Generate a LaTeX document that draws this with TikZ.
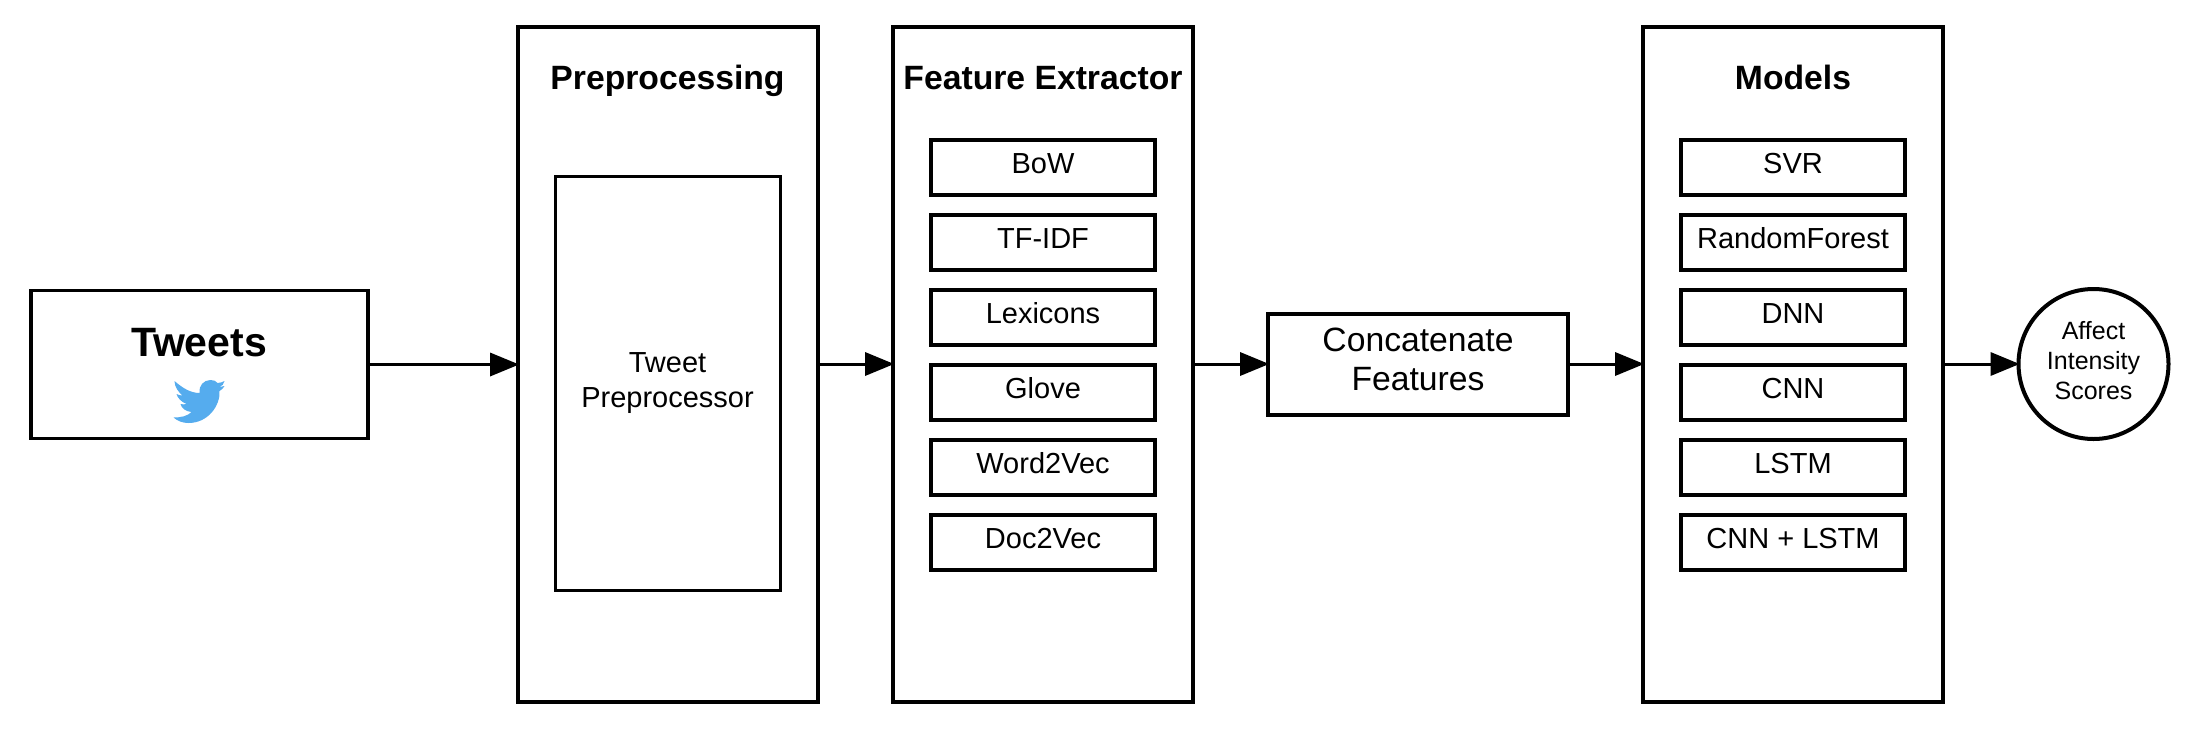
\documentclass[tikz,border=0pt]{standalone}
\usepackage{fontspec}
\setmainfont{Liberation Sans}
\usetikzlibrary{arrows.meta}
\definecolor{birdblue}{HTML}{55ACEE}
\newcommand{\fs}[1]{\fontsize{#1}{#1}\selectfont}
\tikzset{
  x=1pt,y=-1pt,
  outerbox/.style={draw=black,line width=4pt,fill=white,minimum width=300pt,minimum height=675.5pt,inner sep=0pt,anchor=north west},
  itembox/.style={draw=black,line width=4pt,fill=white,minimum width=224pt,minimum height=55pt,inner sep=0pt},
  itemtext/.style={font=\fs{29},text=black,anchor=base},
  headtext/.style={font=\fs{33.7}\bfseries,text=black,anchor=base},
  flow/.style={line width=3pt,-{Triangle[length=29pt,width=24pt,line width=0pt]},shorten >=-3pt},
}
\begin{document}
\begin{tikzpicture}
\useasboundingbox (0,0) rectangle (2211,731);
\fill[white] (0,0) rectangle (2211,731);
% Tweets
\node[draw=black,line width=3.5pt,minimum width=337pt,minimum height=148pt,inner sep=0pt] (tweets) at (199.5,364.5) {};
\node[font=\fs{41}\bfseries] (tweetslabel) at (199,343) {Tweets};
\fill[birdblue] (173.5,417.5)
  .. controls (181.5,417.5) and (187.5,416) .. (191.5,412)
  .. controls (185.5,411.5) and (181.5,408) .. (180.5,404)
  .. controls (182.5,404.5) and (184.5,404.5) .. (186.5,404)
  .. controls (181.5,402) and (177.5,398) .. (176.5,394)
  .. controls (178.5,395) and (180.5,395.5) .. (182.5,395.5)
  .. controls (178.5,392) and (174.5,387) .. (174.5,381)
  .. controls (182.5,388) and (190.5,393) .. (199.5,393)
  .. controls (198.5,386) and (203.5,380) .. (210.5,380)
  .. controls (213.5,380) and (216.5,381) .. (217.5,383)
  .. controls (220.5,383) and (222.5,382) .. (224.5,381)
  .. controls (223.5,384) and (222.5,386) .. (219.5,387)
  .. controls (221.5,387) and (222.5,387) .. (224.5,386)
  .. controls (223.5,388) and (221.5,390) .. (219.5,391)
  .. controls (220.5,405) and (208.5,423) .. (188.5,423)
  .. controls (182.5,423) and (177.5,421) .. (173.5,417.5) -- cycle;
% Preprocessing
\node[outerbox] (prep) at (516,24.5) {};
\node[headtext] (preplabel) at (667.5,89.5) {Preprocessing};
\node[draw=black,line width=3pt,fill=white,minimum width=225pt,minimum height=414pt,inner sep=0pt,align=center,font=\fs{29}] (tp) at (667.5,383) {Tweet\\[6pt]Preprocessor};
% Feature extractor
\node[outerbox] (feat) at (891,24.5) {};
\node[headtext] (featlabel) at (1043,89.5) {Feature Extractor};
\foreach \n/\t [count=\i from 0] in {a/BoW,b/TF-IDF,c/Lexicons,d/Glove,e/Word2Vec,f/Doc2Vec}{
  \node[itembox] (f\n) at (1043,{167.5+75*\i}) {};
  \node[itemtext] (f\n t) at (1043,{173.5+75*\i}) {\t};
}
% Concatenate
\node[draw=black,line width=4pt,minimum width=300pt,minimum height=101pt,inner sep=0pt] (conc) at (1418,364) {};
\node[align=center,font=\fs{33.7},inner sep=0pt] (conctext) at (1418,359.5) {Concatenate\\[6pt]Features};
% Models
\node[outerbox] (models) at (1641,24.5) {};
\node[headtext] (modelslabel) at (1793,89.5) {Models};
\foreach \n/\t [count=\i from 0] in {a/SVR,b/RandomForest,c/DNN,d/CNN,e/LSTM,f/CNN + LSTM}{
  \node[itembox] (m\n) at (1793,{167.5+75*\i}) {};
  \node[itemtext] (m\n t) at (1793,{173.5+75*\i}) {\t};
}
% Scores
\node[circle,draw=black,line width=4pt,minimum size=150pt,inner sep=0pt] (scores) at (2093.5,364) {};
\node[align=center,font=\fs{25},inner sep=0pt] (scorestext) at (2093.5,360.5) {Affect\\[5pt]Intensity\\[5pt]Scores};
% Connectors
\draw[flow] (tweets.east) -- (prep.west |- tweets.east);
\draw[flow] (prep.east |- tp.east) ++(0,-19) coordinate (p1) -- (feat.west |- p1);
\draw[flow] (feat.east |- conc.west) -- (conc.west);
\draw[flow] (conc.east) -- (models.west |- conc.east);
\draw[flow] (models.east |- scores.west) -- (scores.west);
\end{tikzpicture}
\end{document}
